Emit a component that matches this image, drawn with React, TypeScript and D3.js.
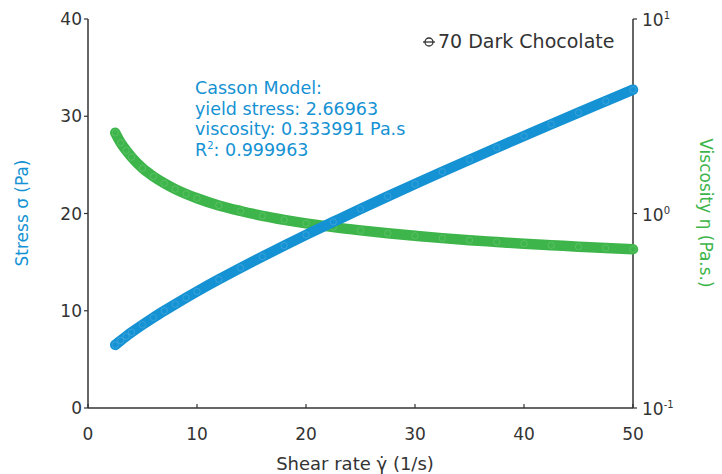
import React from "react";
import * as d3 from "d3";

const shearRate = [2.5, 3, 3.5, 4, 5, 6, 7, 8, 9, 10, 12, 14, 16, 18, 20, 22.5, 25, 27.5, 30, 32.5, 35, 37.5, 40, 42.5, 45, 47.5, 50];
const stress = [6.49, 6.94, 7.37, 7.78, 8.56, 9.3, 10.0, 10.68, 11.34, 11.98, 13.22, 14.41, 15.57, 16.7, 17.8, 19.14, 20.47, 21.76, 23.03, 24.29, 25.53, 26.76, 27.97, 29.18, 30.37, 31.55, 32.73];
const viscosity = [2.6, 2.31, 2.11, 1.95, 1.71, 1.55, 1.43, 1.335, 1.26, 1.198, 1.1, 1.03, 0.973, 0.928, 0.89, 0.851, 0.819, 0.791, 0.768, 0.747, 0.729, 0.714, 0.699, 0.687, 0.675, 0.664, 0.655];
const xTicks = [0, 10, 20, 30, 40, 50];
const yTicks = [0, 10, 20, 30, 40];
const y2Ticks = [0.1, 1, 10];
const y2Exponents = ["-1", "0", "1"];
const annotation = ["Casson Model:", "yield stress: 2.66963", "viscosity: 0.333991 Pa.s"];
const legendLabel = "70 Dark Chocolate";

const BLUE = "#1592d3";
const GREEN = "#3db54a";
const TEXT = "#333333";
const FONT = "'DejaVu Sans', sans-serif";

export default function App() {
  const W = 722, H = 474;
  const left = 88, right = 633, top = 19, bottom = 408;
  const x = d3.scaleLinear().domain([0, 50]).range([left, right]);
  const y = d3.scaleLinear().domain([0, 40]).range([bottom, top]);
  const y2 = d3.scaleLog().domain([0.1, 10]).range([bottom, top]);

  const stressPts: [number, number][] = shearRate.map((g, i) => [x(g), y(stress[i])]);
  const viscPts: [number, number][] = shearRate.map((g, i) => [x(g), y2(viscosity[i])]);
  const line = d3.line().curve(d3.curveMonotoneX);

  const series = (pts: [number, number][], color: string) => (
    <g>
      <path d={line(pts) || ""} fill="none" stroke={color} strokeWidth={10.5} strokeLinecap="round" strokeLinejoin="round" />
      {pts.map((p, i) => (
        <circle key={i} cx={p[0]} cy={p[1]} r={3.2} fill="none" stroke="#ffffff" strokeOpacity={0.18} strokeWidth={0.8} />
      ))}
    </g>
  );

  return (
    <svg width={W} height={H} style={{ position: "absolute", left: 0, top: 0, background: "#fff" }} fontFamily={FONT}>
      <line x1={left} x2={left} y1={top} y2={bottom} stroke={TEXT} strokeWidth={1.5} />
      <line x1={right} x2={right} y1={top} y2={bottom} stroke={TEXT} strokeWidth={1.5} />
      <line x1={left} x2={right} y1={bottom} y2={bottom} stroke={TEXT} strokeWidth={1.5} />

      {xTicks.map((t) => (
        <g key={"x" + t}>
          <line x1={x(t)} x2={x(t)} y1={bottom} y2={bottom - 4} stroke={TEXT} strokeWidth={1.2} />
          <text x={x(t)} y={440} textAnchor="middle" fontSize={17} fill={TEXT}>{t}</text>
        </g>
      ))}
      {yTicks.map((t) => (
        <g key={"y" + t}>
          <line x1={left - 4} x2={left} y1={y(t)} y2={y(t)} stroke={TEXT} strokeWidth={1.2} />
          <text x={left - 6} y={y(t) + 6} textAnchor="end" fontSize={17} fill={TEXT}>{t}</text>
        </g>
      ))}
      {y2Ticks.map((t, i) => (
        <g key={"y2" + t}>
          <line x1={right} x2={right + 4} y1={y2(t)} y2={y2(t)} stroke={TEXT} strokeWidth={1.2} />
          <text x={right + 9} y={y2(t) + 7} fontSize={17} fill={TEXT}>
            10<tspan dy={-7} fontSize={10}>{y2Exponents[i]}</tspan>
          </text>
        </g>
      ))}

      <text x={355} y={470} textAnchor="middle" fontSize={18} fill={TEXT}>Shear rate γ̇ (1/s)</text>
      <text transform={`translate(28,${213}) rotate(-90)`} textAnchor="middle" fontSize={17} fill={BLUE}>Stress σ (Pa)</text>
      <text transform={`translate(700,${213}) rotate(90)`} textAnchor="middle" fontSize={17} fill={GREEN}>Viscosity η (Pa.s.)</text>

      {series(viscPts, GREEN)}
      {series(stressPts, BLUE)}

      {annotation.map((s, i) => (
        <text key={i} x={195} y={94 + i * 20.7} fontSize={17.5} fill={BLUE}>{s}</text>
      ))}
      <text x={195} y={94 + 3 * 20.7} fontSize={17.5} fill={BLUE}>
        R<tspan dy={-7} fontSize={10}>2</tspan><tspan dy={7}>: 0.999963</tspan>
      </text>

      <line x1={423} x2={435} y1={42} y2={42} stroke={TEXT} strokeWidth={1.3} />
      <circle cx={429} cy={42} r={4} fill="none" stroke={TEXT} strokeWidth={1.3} />
      <text x={438} y={48} fontSize={19} fill={TEXT}>{legendLabel}</text>
    </svg>
  );
}
